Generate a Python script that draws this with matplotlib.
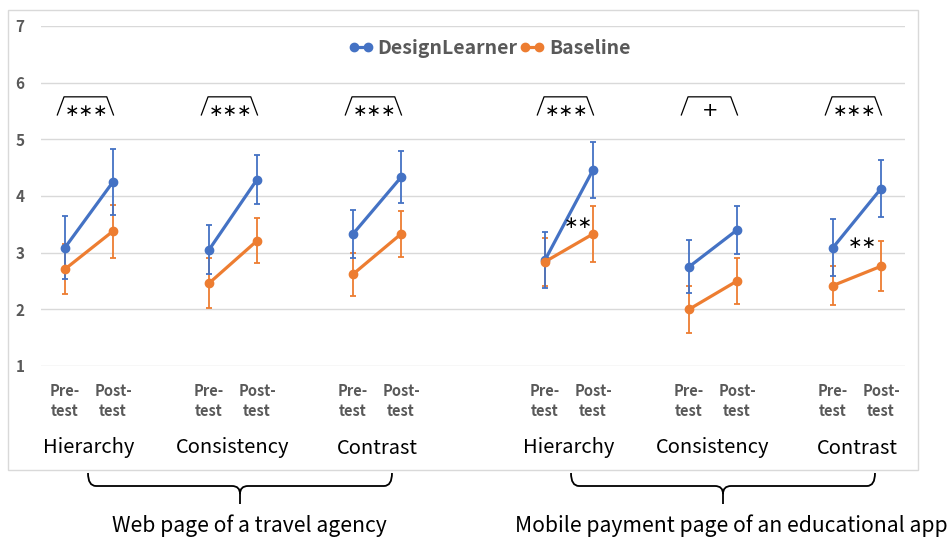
import matplotlib.pyplot as plt
from matplotlib.path import Path
from matplotlib.patches import PathPatch, Rectangle
from matplotlib.lines import Line2D
import matplotlib.transforms as mtransforms

plt.rcParams['font.family'] = ['Noto Sans CJK SC', 'DejaVu Sans']

# x slots: pre/post pairs, with a wider gap between the two pages
x_pos = [0, 1, 3, 4, 6, 7, 10, 11, 13, 14, 16, 17]
tick_labels = ['Pre-\ntest', 'Post-\ntest'] * 6
categories = ['Hierarchy', 'Consistency', 'Contrast'] * 2
pages = ['Web page of a travel agency', 'Mobile payment page of an educational app']

dl_mean = [3.09, 4.25, 3.05, 4.29, 3.33, 4.33, 2.87, 4.46, 2.75, 3.40, 3.09, 4.13]
dl_err = [0.55, 0.58, 0.43, 0.44, 0.42, 0.46, 0.49, 0.49, 0.47, 0.43, 0.51, 0.50]
bl_mean = [2.71, 3.38, 2.46, 3.21, 2.62, 3.33, 2.84, 3.33, 2.00, 2.50, 2.42, 2.76]
bl_err = [0.44, 0.47, 0.44, 0.40, 0.38, 0.41, 0.42, 0.50, 0.42, 0.41, 0.35, 0.44]

# significance marks
group_sig = ['∗∗∗', '∗∗∗', '∗∗∗', '∗∗∗', '+', '∗∗∗']
between_sig = ['∗∗', '∗∗']
between_x = [10.7, 16.6]
between_y = [3.53, 3.17]

blue = '#4472C4'
orange = '#ED7D31'
grey = '#595959'

fig = plt.figure(figsize=(9.5, 5.41), dpi=100)

# background layer in pixel coords: frame + braces
bg = fig.add_axes([0, 0, 1, 1], zorder=0)
bg.set_xlim(0, 950)
bg.set_ylim(541, 0)
bg.axis('off')
bg.add_patch(Rectangle((8, 10), 910, 460, fill=False, edgecolor='#d9d9d9', linewidth=1))


def brace(x0, x1, y_top, y_mid, y_tip, r=8):
    xc = (x0 + x1) / 2
    verts = [(x0, y_top), (x0, y_mid), (x0 + r, y_mid),
             (xc - r, y_mid), (xc, y_mid), (xc, y_mid + r),
             (xc, y_tip),
             (xc, y_mid + r), (xc, y_mid), (xc + r, y_mid),
             (x1 - r, y_mid), (x1, y_mid), (x1, y_top)]
    codes = [Path.MOVETO, Path.CURVE3, Path.CURVE3,
             Path.LINETO, Path.CURVE3, Path.CURVE3,
             Path.LINETO,
             Path.MOVETO, Path.CURVE3, Path.CURVE3,
             Path.LINETO, Path.CURVE3, Path.CURVE3]
    bg.add_patch(PathPatch(Path(verts, codes), fill=False, edgecolor='black', linewidth=1.3))


brace(88, 392, 473, 486, 504)
brace(571, 875, 473, 486, 504)
bg.text(249, 526, pages[0], ha='center', va='center', fontsize=15.2, color='black')
bg.text(731, 526, pages[1], ha='center', va='center', fontsize=15.2, color='black')

ax = fig.add_axes([41 / 950, 1 - 366 / 541, 864 / 950, 340 / 541], zorder=1)
ax.patch.set_visible(False)
ax.set_xlim(-0.5, 17.5)
ax.set_ylim(1, 7)
ax.set_yticks(range(1, 8))
ax.grid(axis='y', color='#d9d9d9', linewidth=1)
ax.set_axisbelow(True)
for s in ax.spines.values():
    s.set_visible(False)
ax.tick_params(length=0)
ax.tick_params(axis='y', pad=12, labelsize=11, labelcolor=grey)
ax.tick_params(axis='x', pad=12, labelsize=10.5, labelcolor=grey)
for lab in ax.get_yticklabels():
    lab.set_fontweight('bold')
ax.set_xticks(x_pos)
ax.set_xticklabels(tick_labels, fontweight='bold', linespacing=1.35)

for i in range(0, len(x_pos), 2):
    xs = x_pos[i:i + 2]
    ax.errorbar(xs, bl_mean[i:i + 2], yerr=bl_err[i:i + 2], fmt='none', ecolor=orange,
                elinewidth=1.3, capsize=2.5, capthick=1.3, zorder=2)
    ax.errorbar(xs, dl_mean[i:i + 2], yerr=dl_err[i:i + 2], fmt='none', ecolor=blue,
                elinewidth=1.3, capsize=2.5, capthick=1.3, zorder=2)
    ax.plot(xs, dl_mean[i:i + 2], color=blue, linewidth=2.3, marker='o', markersize=6, zorder=3)
    ax.plot(xs, bl_mean[i:i + 2], color=orange, linewidth=2.3, marker='o', markersize=6, zorder=4)

# category names under the pairs
trans = mtransforms.blended_transform_factory(ax.transData, fig.transFigure)
for k, cat in enumerate(categories):
    xc = (x_pos[2 * k] + x_pos[2 * k + 1]) / 2
    ax.text(xc, 1 - 448 / 541, cat, transform=trans, ha='center', va='center',
            fontsize=14.5, color='black')

# significance brackets above each pair
for k, sig in enumerate(group_sig):
    xc = (x_pos[2 * k] + x_pos[2 * k + 1]) / 2 - 0.06
    ax.plot([xc - 0.6, xc - 0.46, xc + 0.43, xc + 0.57], [5.43, 5.75, 5.75, 5.43],
            color='black', linewidth=0.9, zorder=3)
    ax.text(xc, 5.5, sig, ha='center', va='center', fontsize=14 if sig == '+' else 12.5,
            color='black', family=['DejaVu Sans'])

for x, y, sig in zip(between_x, between_y, between_sig):
    ax.text(x, y, sig, ha='center', va='center', fontsize=12.5, color='black',
            family=['DejaVu Sans'])

handles = [Line2D([], [], color=blue, linewidth=2.3, marker='o', markersize=6),
           Line2D([], [], color=orange, linewidth=2.3, marker='o', markersize=6)]
leg = ax.legend(handles, ['DesignLearner', 'Baseline'], loc='center', bbox_to_anchor=(0.519, 0.935),
                ncol=2, frameon=False, numpoints=2, handlelength=1.3, handletextpad=0.2,
                columnspacing=0.1, prop={'size': 14, 'weight': 'bold'})
for t in leg.get_texts():
    t.set_color(grey)

fig.savefig('out.png', dpi=100)
